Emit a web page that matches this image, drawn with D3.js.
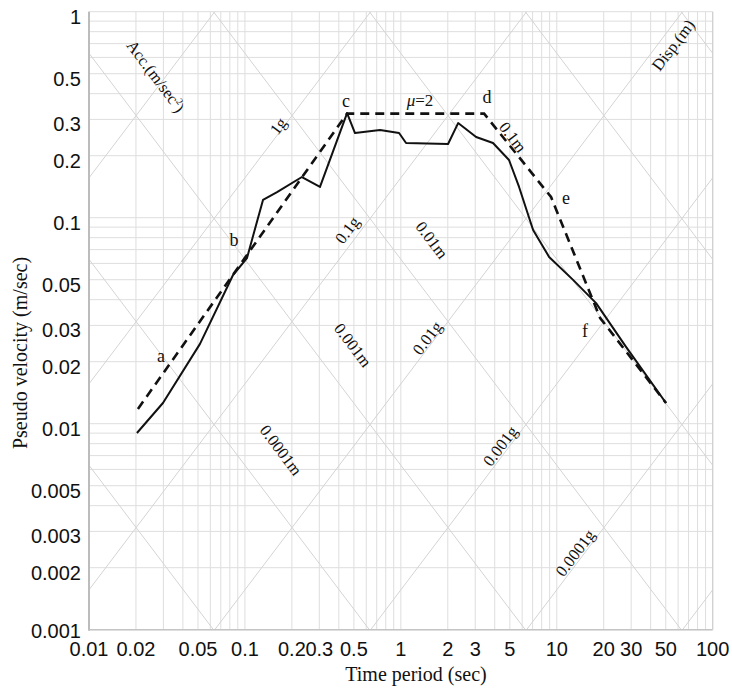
<!DOCTYPE html>
<html>
<head>
<meta charset="utf-8">
<script src="https://cdn.jsdelivr.net/npm/d3@7"></script>
<style>
  html, body { margin: 0; padding: 0; background: #fff; }
  svg { display: block; }
</style>
</head>
<body>
<svg id="chart" width="732" height="692"></svg>
<script>
// ---------------- data ----------------
// Actual (solid) pseudo-velocity spectrum: period T (s), pseudo velocity V (m/s)
const solidT = [0.0203, 0.0298, 0.0515, 0.0839, 0.1031, 0.1306, 0.1607, 0.232, 0.303, 0.452, 0.508, 0.7355, 0.974, 1.08, 2.008, 2.33, 3.04, 3.90, 4.94, 5.73, 7.05, 8.93, 12.72, 17.87, 27.8, 50.2];
const solidV = [0.00901, 0.0126, 0.0244, 0.0527, 0.0637, 0.122, 0.133, 0.1576, 0.141, 0.322, 0.2576, 0.2665, 0.2576, 0.2305, 0.228, 0.288, 0.2464, 0.2305, 0.1906, 0.141, 0.0871, 0.0645, 0.0499, 0.0385, 0.0236, 0.0126];
// Design (dashed) spectrum, mu = 2
const dashT = [0.0206, 0.452, 3.42, 9.19, 18.97, 50.2];
const dashV = [0.0118, 0.32, 0.32, 0.126, 0.0326, 0.0126];

// Axis ticks
const xTicks = [0.01, 0.02, 0.05, 0.1, 0.2, 0.3, 0.5, 1, 2, 3, 5, 10, 20, 30, 50, 100];
const xTickLabels = ["0.01", "0.02", "0.05", "0.1", "0.2", "0.3", "0.5", "1", "2", "3", "5", "10", "20", "30", "50", "100"];
const yTicks = [1, 0.5, 0.3, 0.2, 0.1, 0.05, 0.03, 0.02, 0.01, 0.005, 0.003, 0.002, 0.001];
const yTickLabels = ["1", "0.5", "0.3", "0.2", "0.1", "0.05", "0.03", "0.02", "0.01", "0.005", "0.003", "0.002", "0.001"];

// Tripartite diagonal grid: acceleration lines (multiples of g) and displacement lines (m)
const accLinesG = [0.00001, 0.0001, 0.001, 0.01, 0.1, 1, 10, 100];
const dispLinesM = [0.000001, 0.00001, 0.0001, 0.001, 0.01, 0.1, 1, 10];

// Diagonal labels (text, position T, V)
const accLabels = ["1g", "0.1g", "0.01g", "0.001g", "0.0001g"];
const accLabelT = [0.163, 0.452, 1.473, 4.33, 13.1];
const accLabelV = [0.2787, 0.0872, 0.0261, 0.0078, 0.00236];
const dispLabels = ["0.0001m", "0.001m", "0.01m", "0.1m"];
const dispLabelT = [0.1706, 0.4935, 1.585, 5.245];
const dispLabelV = [0.00745, 0.0241, 0.078, 0.2464];

// Point letters
const pointLetters = ["a", "b", "c", "d", "e", "f"];
const pointLetterT = [0.029, 0.0851, 0.445, 3.57, 11.47, 15.19];
const pointLetterV = [0.0213, 0.078, 0.368, 0.385, 0.1246, 0.0282];

// ---------------- layout ----------------
(function () {
const svg = d3.select("#chart");
const pL = 89, pR = 712.7, pT = 11.7, pB = 629.7;
const x = d3.scaleLog().domain([0.01, 100]).range([pL, pR]);
const y = d3.scaleLog().domain([0.001, 1]).range([pB, pT]);
const G = 9.81, TWO_PI = 2 * Math.PI;

const serif = "'Liberation Serif', 'Times New Roman', serif";
const sans = "'Liberation Sans', Arial, sans-serif";

svg.append("defs").append("clipPath").attr("id", "plotclip")
  .append("rect").attr("x", pL).attr("y", pT).attr("width", pR - pL).attr("height", pB - pT);

function logGridValues(lo, hi) {
  const vals = [];
  for (let e = Math.round(Math.log10(lo)); e <= Math.round(Math.log10(hi)); e++) {
    for (let m = 1; m <= 9; m++) {
      const v = m * Math.pow(10, e);
      if (v >= lo * 0.999 && v <= hi * 1.001) vals.push(v);
    }
  }
  return vals;
}
const grid = svg.append("g");
grid.selectAll("line.vg").data(logGridValues(0.01, 100)).enter().append("line")
  .attr("x1", d => x(d)).attr("x2", d => x(d)).attr("y1", pT).attr("y2", pB)
  .attr("stroke", "#dedede").attr("stroke-width", 1);
grid.selectAll("line.hg").data(logGridValues(0.001, 1)).enter().append("line")
  .attr("y1", d => y(d)).attr("y2", d => y(d)).attr("x1", pL).attr("x2", pR)
  .attr("stroke", "#dedede").attr("stroke-width", 1);

// diagonal grid
const diag = svg.append("g").attr("clip-path", "url(#plotclip)");
const lineGen = d3.line().x(d => x(d[0])).y(d => y(d[1]));
const Tends = [0.001, 1000];
accLinesG.forEach(a => {
  const A = a * G;
  diag.append("path").attr("d", lineGen(Tends.map(T => [T, A * T / TWO_PI])))
    .attr("fill", "none").attr("stroke", "#d4d4d4").attr("stroke-width", 1);
});
dispLinesM.forEach(D => {
  diag.append("path").attr("d", lineGen(Tends.map(T => [T, TWO_PI * D / T])))
    .attr("fill", "none").attr("stroke", "#d4d4d4").attr("stroke-width", 1);
});

// axes lines
svg.append("line").attr("x1", pL).attr("x2", pL).attr("y1", pT).attr("y2", pB + 1)
  .attr("stroke", "#bcbcbc").attr("stroke-width", 2);
svg.append("line").attr("x1", pL).attr("x2", pR).attr("y1", pB).attr("y2", pB)
  .attr("stroke", "#c4c4c4").attr("stroke-width", 1.5);
svg.append("line").attr("x1", pR).attr("x2", pR).attr("y1", pT).attr("y2", pB)
  .attr("stroke", "#cfcfcf").attr("stroke-width", 1.2);

// tick labels
svg.append("g").selectAll("text").data(xTicks).enter().append("text")
  .attr("x", d => x(d)).attr("y", pB + 26)
  .attr("text-anchor", "middle").attr("font-family", sans).attr("font-size", 20).attr("fill", "#111")
  .text((d, i) => xTickLabels[i]);
svg.append("g").selectAll("text").data(yTicks).enter().append("text")
  .attr("x", pL - 8).attr("y", d => y(d) + (d === 0.001 ? 8 : 12))
  .attr("text-anchor", "end").attr("font-family", sans).attr("font-size", 20).attr("fill", "#111")
  .text((d, i) => yTickLabels[i]);

// axis titles
svg.append("text").attr("x", 416).attr("y", 681).attr("text-anchor", "middle")
  .attr("font-family", serif).attr("font-size", 20).attr("fill", "#111").text("Time period (sec)");
svg.append("text").attr("transform", "translate(27,353) rotate(-90)").attr("text-anchor", "middle")
  .attr("font-family", serif).attr("font-size", 20).attr("fill", "#111").text("Pseudo velocity (m/sec)");

const ang = Math.atan2(y(0.001) - y(0.01), x(0.1) - x(0.01)) * 180 / Math.PI;

const ann = svg.append("g").attr("font-family", serif).attr("fill", "#111");
accLabels.forEach((t, i) => {
  ann.append("text").attr("transform", `translate(${x(accLabelT[i])},${y(accLabelV[i])}) rotate(${-ang})`)
    .attr("text-anchor", "middle").attr("dy", "0.35em").attr("font-size", 16.5).text(t);
});
dispLabels.forEach((t, i) => {
  ann.append("text").attr("transform", `translate(${x(dispLabelT[i])},${y(dispLabelV[i])}) rotate(${ang})`)
    .attr("text-anchor", "middle").attr("dy", "0.35em").attr("font-size", 16.5).text(t);
});
const accT = ann.append("text").attr("transform", `translate(${x(0.0269)},${y(0.487)}) rotate(${ang})`)
  .attr("text-anchor", "middle").attr("dy", "0.35em").attr("font-size", 16.5);
accT.append("tspan").text("Acc.(m/sec");
accT.append("tspan").attr("font-size", 10).attr("dy", "-0.6em").text("2");
accT.append("tspan").attr("dy", "0.4em").text(")");
ann.append("text").attr("transform", `translate(${x(55.7)},${y(0.689)}) rotate(${-ang})`)
  .attr("text-anchor", "middle").attr("dy", "0.35em").attr("font-size", 16.5).text("Disp.(m)");

// data lines
const pathGen = d3.line().x(d => x(d[0])).y(d => y(d[1]));
svg.append("path").attr("d", pathGen(dashT.map((t, i) => [t, dashV[i]])))
  .attr("fill", "none").attr("stroke", "#111").attr("stroke-width", 2.6)
  .attr("stroke-dasharray", "9,6");
svg.append("path").attr("d", pathGen(solidT.map((t, i) => [t, solidV[i]])))
  .attr("fill", "none").attr("stroke", "#111").attr("stroke-width", 2).attr("stroke-linejoin", "round");

pointLetters.forEach((t, i) => {
  ann.append("text").attr("x", x(pointLetterT[i])).attr("y", y(pointLetterV[i]))
    .attr("text-anchor", "middle").attr("dy", "0.35em").attr("font-size", 18).text(t);
});
const mu = ann.append("text").attr("x", x(1.328)).attr("y", y(0.3726))
  .attr("text-anchor", "middle").attr("dy", "0.35em").attr("font-size", 17);
mu.append("tspan").attr("font-style", "italic").text("μ");
mu.append("tspan").text("=2");
})();
</script>
</body>
</html>
